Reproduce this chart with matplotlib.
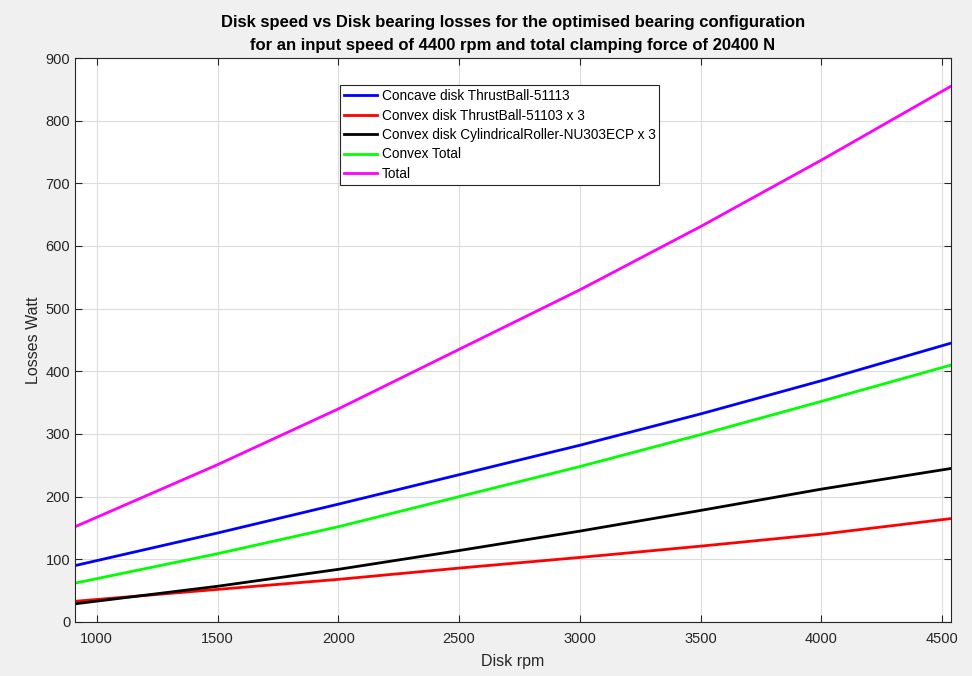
import numpy as np
import matplotlib.pyplot as plt

plt.rcParams['font.family'] = ['Liberation Sans', 'DejaVu Sans']

# values
rpm = [910, 1500, 2000, 2500, 3000, 3500, 4000, 4537]
concave_ball = [90, 142, 188, 235, 282, 332, 385, 445]
convex_ball = [33, 52, 68, 86, 103, 121, 140, 165]
convex_roller = [29, 57, 84, 114, 145, 178, 212, 245]
convex_total = [62, 109, 152, 200, 248, 299, 352, 410]
total = [152, 251, 340, 435, 530, 631, 737, 855]

labels = ['Concave disk ThrustBall-51113',
          'Convex disk ThrustBall-51103 x 3',
          'Convex disk CylindricalRoller-NU303ECP x 3',
          'Convex Total',
          'Total']
colors = ['#0000ff', '#ff0000', '#000000', '#00ff00', '#ff00ff']
series = [concave_ball, convex_ball, convex_roller, convex_total, total]

fig = plt.figure(figsize=(9.72, 6.76), dpi=100, facecolor='#f0f0f0')
ax = fig.add_axes([0.0772, 0.0799, 0.9012, 0.8343])

for y, c, lab in zip(series, colors, labels):
    ax.plot(rpm, y, color=c, lw=2, label=lab)

ax.set_xlim(910, 4537)
ax.set_ylim(0, 900)
ax.set_xticks(np.arange(1000, 4501, 500))
ax.set_yticks(np.arange(0, 901, 100))
ax.grid(True, color='#dcdcdc', lw=0.8)
ax.set_axisbelow(True)
ax.tick_params(direction='in', top=True, right=True, labelsize=10.5,
               colors='#262626', length=5)
ax.tick_params(axis='x', pad=7)
for s in ax.spines.values():
    s.set_color('#262626')
    s.set_linewidth(0.8)

ax.set_xlabel('Disk rpm', fontsize=11.5, color='#262626', labelpad=6)
ax.set_ylabel('Losses Watt', fontsize=11.5, color='#262626', labelpad=3)
ax.set_title('Disk speed vs Disk bearing losses for the optimised bearing configuration\n'
             'for an input speed of 4400 rpm and total clamping force of 20400 N',
             fontsize=12, fontweight='bold', linespacing=1.6, pad=6)

leg = ax.legend(loc='upper left', bbox_to_anchor=(0.3025, 0.952), borderaxespad=0,
                fontsize=9.8, handlelength=2.4, handletextpad=0.35, labelspacing=0.4,
                fancybox=False, framealpha=1, edgecolor='#262626', borderpad=0.3)
leg.get_frame().set_linewidth(0.8)

plt.savefig('out.png', dpi=100, facecolor=fig.get_facecolor())
